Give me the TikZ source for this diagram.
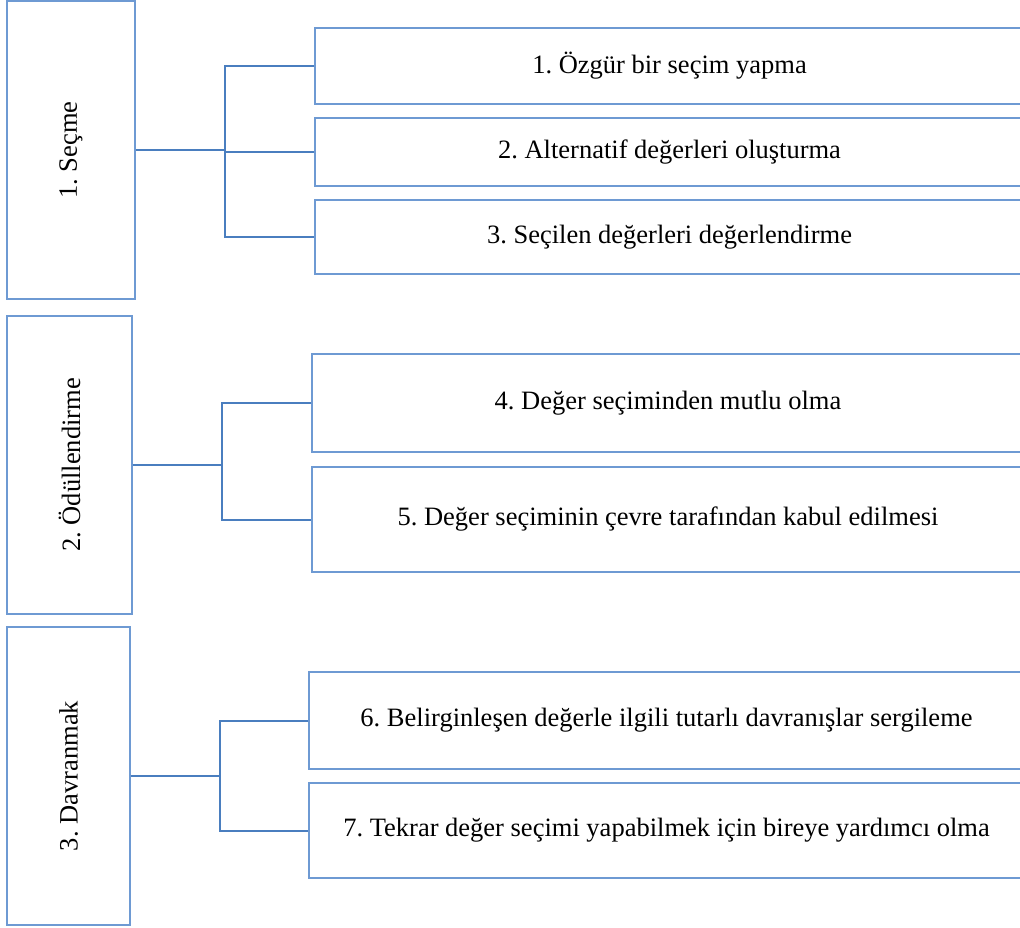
\documentclass[tikz,border=0pt]{standalone}
\usepackage{fontspec}
\setmainfont{Liberation Serif}
\frenchspacing
\definecolor{boxline}{HTML}{6E9AD3}
\definecolor{linkline}{HTML}{4A7EBF}
\begin{document}
\begin{tikzpicture}[x=1pt,y=-1pt,
  stage/.style={draw=boxline, line width=1.3pt, fill=white, inner sep=0pt,
    font=\fontsize{26.5}{30}\selectfont},
  substep/.style={draw=boxline, line width=1.3pt, fill=white, inner sep=0pt,
    font=\fontsize{26.5}{30}\selectfont},
  link/.style={draw=linkline, line width=2pt}]
\useasboundingbox (0,0) rectangle (1020,928);
\clip (0,0) rectangle (1020,928);

% stage boxes with titles reading bottom to top
\node[stage, minimum width=128pt, minimum height=298pt] (s1) at (71,150) {\rotatebox{90}{1. Seçme}};
\node[stage, minimum width=125pt, minimum height=298pt] (s2) at (69.5,465) {\rotatebox{90}{2. Ödüllendirme}};
\node[stage, minimum width=123pt, minimum height=298pt] (s3) at (68.5,776) {\rotatebox{90}{3. Davranmak}};

% steps of each stage
\node[substep, minimum width=709pt, minimum height=76pt] (b1) at (669.5,66) {1. Özgür bir seçim yapma};
\node[substep, minimum width=709pt, minimum height=68pt] (b2) at (669.5,152) {2. Alternatif değerleri oluşturma};
\node[substep, minimum width=709pt, minimum height=74pt] (b3) at (669.5,237) {3. Seçilen değerleri değerlendirme};
\node[substep, minimum width=712pt, minimum height=98pt] (b4) at (668,403) {4. Değer seçiminden mutlu olma};
\node[substep, minimum width=712pt, minimum height=105pt] (b5) at (668,519.5) {5. Değer seçiminin çevre tarafından kabul edilmesi};
\node[substep, minimum width=715pt, minimum height=97pt] (b6) at (666.5,720.5) {6. Belirginleşen değerle ilgili tutarlı davranışlar sergileme};
\node[substep, minimum width=715pt, minimum height=95pt] (b7) at (666.5,830.5) {7. Tekrar değer seçimi yapabilmek için bireye yardımcı olma};

% branch points
\coordinate (j1) at (225,150);
\coordinate (j2) at (222,465);
\coordinate (j3) at (220,776);

% connectors of stage 1
\draw[link] (s1.east) -- (j1);
\draw[link] (b1.west) -| (j1) |- (b3.west);
\draw[link] (j1 |- b2.west) -- (b2.west);

% connectors of stage 2
\draw[link] (s2.east) -- (j2);
\draw[link] (b4.west) -| (j2) |- (b5.west);

% connectors of stage 3
\draw[link] (s3.east) -- (j3);
\draw[link] (b6.west) -| (j3) |- (b7.west);
\end{tikzpicture}
\end{document}
